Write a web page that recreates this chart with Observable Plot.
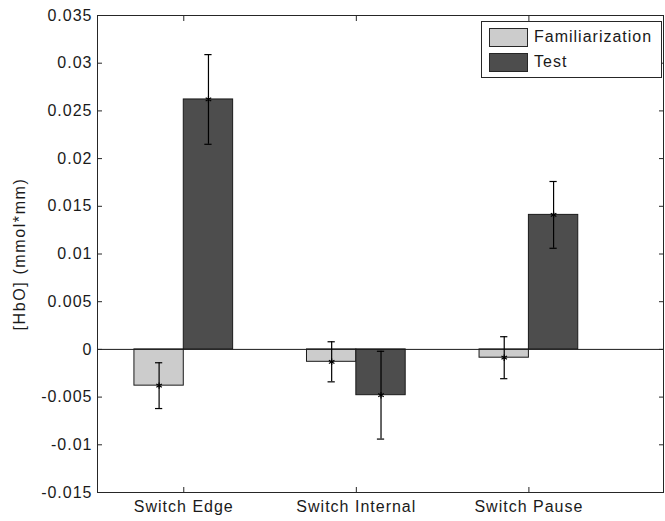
<!DOCTYPE html>
<html>
<head>
<meta charset="utf-8">
<script src="https://cdn.jsdelivr.net/npm/d3@7"></script>
<script src="https://cdn.jsdelivr.net/npm/@observablehq/plot@0.6"></script>
<style>
  body { margin: 0; background: #fff; }
  #wrap { position: relative; width: 665px; height: 521px; font-family: "Liberation Sans", Arial, sans-serif; }
  #legend { position: absolute; left: 481px; top: 21px; width: 181px; height: 57px; box-sizing: border-box;
            border: 1px solid #262626; background: #fff; }
  .item { position: absolute; left: 7px; height: 20px; display: flex; align-items: center; }
  .sw { width: 39px; height: 19px; box-sizing: border-box; border: 1px solid #262626; margin-right: 6px; }
  .lab { font-size: 16px; letter-spacing: 1px; color: #1a1a1a; }
  #ylabel { position: absolute; left: 20px; top: 253.5px; transform: translate(-50%, -50%) rotate(-90deg);
            white-space: nowrap; font-size: 16px; letter-spacing: 1.6px; color: #1a1a1a; line-height: 1; }
</style>
</head>
<body>
<div id="wrap"></div>
<script>
const categories = ["Switch Edge", "Switch Internal", "Switch Pause"];
const seriesNames = ["Familiarization", "Test"];
const famMeans = [-0.0038, -0.0013, -0.00087];
const famErr = [0.0024, 0.0021, 0.0022];
const testMeans = [0.0262, -0.0048, 0.0141];
const testErr = [0.0047, 0.0046, 0.0035];
const seriesColors = ["#cccccc", "#4d4d4d"];
const yTicks = [-0.015, -0.01, -0.005, 0, 0.005, 0.01, 0.015, 0.02, 0.025, 0.03, 0.035];
const yTickLabels = ["-0.015", "-0.01", "-0.005", "0", "0.005", "0.01", "0.015", "0.02", "0.025", "0.03", "0.035"];
const yLabel = "[HbO] (mmol*mm)";

const half = 0.143;
const rows = [];
categories.forEach((c, i) => {
  [famMeans, testMeans].forEach((arr, s) => {
    const center = (i + 1) + (s === 0 ? -half : half);
    rows.push({
      category: c,
      series: seriesNames[s],
      x: center,
      x1: center - half,
      x2: center + half,
      v: arr[i],
      e: (s === 0 ? famErr : testErr)[i]
    });
  });
});
const xTicks = categories.map((c, i) => i + 1);
const capW = 0.021;
const ink = "#1a1a1a";

const chart = Plot.plot({
  width: 665,
  height: 521,
  marginLeft: 97,
  marginRight: 2,
  marginTop: 15,
  marginBottom: 29,
  style: { fontFamily: "'Liberation Sans', Arial, sans-serif", fontSize: "16px", color: ink, background: "#fff", letterSpacing: "1px" },
  x: { type: "linear", domain: [0.5, 3.78] },
  y: { domain: [-0.015, 0.035] },
  color: { domain: seriesNames, range: seriesColors },
  marks: [
    Plot.rectY(rows, { x1: "x1", x2: "x2", y1: 0, y2: "v", fill: "series", stroke: ink, strokeWidth: 1 }),
    Plot.ruleY([0], { stroke: ink }),
    Plot.ruleX(rows, { x: "x", y1: d => d.v - d.e, y2: d => d.v + d.e, stroke: "#000", strokeWidth: 1.2 }),
    Plot.ruleY(rows, { y: d => d.v + d.e, x1: d => d.x - capW, x2: d => d.x + capW, stroke: "#000", strokeWidth: 1.2 }),
    Plot.ruleY(rows, { y: d => d.v - d.e, x1: d => d.x - capW, x2: d => d.x + capW, stroke: "#000", strokeWidth: 1.2 }),
    Plot.dot(rows, { x: "x", y: "v", symbol: "asterisk", r: 3, stroke: "#000", strokeWidth: 1.2 }),
    Plot.axisY(yTicks, { anchor: "left", tickSize: 0, tickPadding: 5, tickFormat: (d, i) => yTickLabels[i], fontSize: 16, fill: ink, label: null }),
    Plot.axisY(yTicks, { anchor: "left", tickSize: -5, text: null, stroke: "#262626", label: null }),
    Plot.axisY(yTicks, { anchor: "right", tickSize: -5, text: null, stroke: "#262626", label: null }),
    Plot.axisX(xTicks, { anchor: "bottom", tickSize: 0, tickPadding: 8, tickFormat: (d, i) => categories[i], fontSize: 16, fill: ink, label: null }),
    Plot.axisX(xTicks, { anchor: "bottom", tickSize: -5, text: null, stroke: "#262626", label: null }),
    Plot.axisX(xTicks, { anchor: "top", tickSize: -5, text: null, stroke: "#262626", label: null }),
    Plot.frame({ stroke: "#262626", strokeWidth: 1 })
  ]
});

const wrap = document.getElementById("wrap");
wrap.appendChild(chart);
const yl = document.createElement("div");
yl.id = "ylabel";
yl.textContent = yLabel;
wrap.appendChild(yl);
const legend = document.createElement("div");
legend.id = "legend";
seriesNames.forEach((s, i) => {
  const item = document.createElement("div");
  item.className = "item";
  item.style.top = (5 + i * 25) + "px";
  const sw = document.createElement("div");
  sw.className = "sw";
  sw.style.background = seriesColors[i];
  const lab = document.createElement("span");
  lab.className = "lab";
  lab.textContent = s;
  item.appendChild(sw);
  item.appendChild(lab);
  legend.appendChild(item);
});
wrap.appendChild(legend);
</script>
</body>
</html>
